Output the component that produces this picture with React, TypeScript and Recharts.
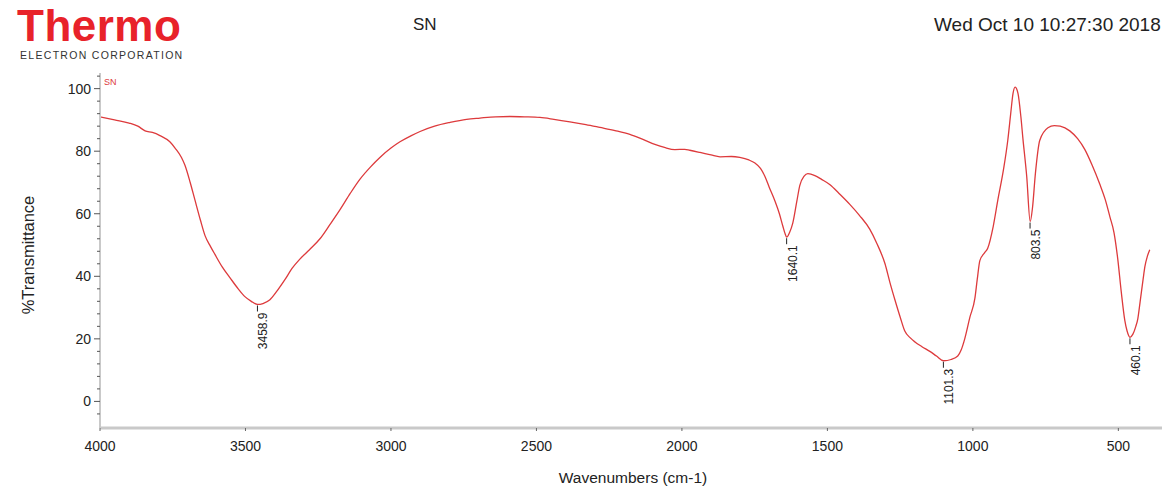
import React from "react";
import {
  LineChart,
  Line,
  XAxis,
  YAxis,
  ReferenceDot,
} from "recharts";

// spectrum
const wavenumbers = [
  4000, 3950, 3900, 3870, 3845, 3820, 3794, 3760, 3742, 3720, 3708, 3690, 3674, 3655, 3639, 3620,
  3605, 3580, 3553, 3525, 3502, 3480, 3459, 3440, 3416, 3390, 3364, 3340, 3313, 3280, 3244, 3210,
  3175, 3140, 3107, 3070, 3038, 3000, 2969, 2930, 2900, 2850, 2797, 2740, 2694, 2640, 2591, 2540,
  2488, 2440, 2385, 2330, 2282, 2230, 2179, 2130, 2093, 2060, 2024, 1990, 1973, 1938, 1900, 1869,
  1830, 1801, 1770, 1749, 1730, 1715, 1700, 1680, 1665, 1653, 1645, 1640, 1630, 1619, 1605, 1595,
  1580, 1567, 1543, 1520, 1491, 1460, 1423, 1390, 1354, 1330, 1302, 1285, 1268, 1250, 1234, 1215,
  1199, 1175, 1148, 1125, 1101, 1075, 1052, 1040, 1028, 1010, 993, 985, 976, 960, 949, 930,
  914, 895, 880, 870, 862, 855, 845, 835, 828, 815, 803, 795, 785, 770, 742, 720,
  700, 667, 640, 615, 590, 564, 545, 529, 515, 502, 490, 478, 470, 460, 450, 440,
  433, 425, 415, 409, 400, 392,
];

const transmittance = [
  91, 90, 89, 88, 86.5, 86, 85, 83, 81, 78, 75.5, 70, 64.5, 58, 53, 49.5,
  47, 43, 39.5, 36, 33.5, 32, 31, 31.3, 32.5, 35.5, 39, 42.5, 45.5, 48.5, 52, 56.5,
  61.3, 66.5, 71, 75, 78, 81, 83, 85, 86.3, 88, 89.2, 90.2, 90.6, 91, 91.1, 91,
  90.8, 90.2, 89.4, 88.5, 87.6, 86.6, 85.4, 83.6, 82.2, 81.2, 80.5, 80.6, 80.3, 79.6, 78.8, 78.2,
  78.3, 78, 77.2, 76.2, 74.5, 72, 68.5, 64, 60, 56, 53.5, 52.5, 54, 57, 64, 69,
  72, 72.8, 72.2, 71, 69.3, 66.5, 63, 59.5, 55, 50.5, 44, 38, 32.5, 27, 22.5, 20.3,
  19, 17.5, 16, 14.5, 13, 13.4, 14.5, 16.5, 20, 27, 33, 39, 45, 47.5, 49, 56,
  64.5, 74, 83.5, 92, 98.5, 100.5, 98.5, 91, 84, 72, 57.5, 62, 73, 83.5, 87.5, 88.2,
  88, 86.5, 84, 80.5, 75.5, 69.5, 64.5, 59, 54, 45.5, 35, 26, 22.5, 20.5, 21.5, 24,
  26.5, 32, 39, 43, 46.5, 48.5,
];

const peakWavenumbers = [3458.9, 1640.1, 1101.3, 803.5, 460.1];
const peakValues = [31, 52.5, 13, 57.5, 20.5];
const peakLabels = ["3458.9", "1640.1", "1101.3", "803.5", "460.1"];

const xTicks = [4000, 3500, 3000, 2500, 2000, 1500, 1000, 500];
const yTicks = [0, 20, 40, 60, 80, 100];
const yMinorTicks = [-4, 4, 8, 12, 16, 24, 28, 32, 36, 44, 48, 52, 56, 64, 68, 72, 76, 84, 88, 92, 96, 104];

const data = wavenumbers.map((w, i) => ({ w, t: transmittance[i] }));

const FONT = "'Liberation Sans', Arial, sans-serif";
const RED = "#dd3a3c";

const PeakMark = (props: any) => {
  const { cx, cy, label } = props;
  const tx = cx + 10;
  const ty = cy + 8;
  return (
    <g>
      <line x1={cx} y1={cy + 1} x2={cx} y2={cy + 7} stroke="#222" strokeWidth={1} />
      <text
        x={tx}
        y={ty}
        transform={`rotate(-90, ${tx}, ${ty})`}
        textAnchor="end"
        fontSize={12}
        fontFamily={FONT}
        fill="#222"
      >
        {label}
      </text>
    </g>
  );
};

const MinorTick = (props: any) => {
  const { cx, cy } = props;
  return <line x1={cx - 3} y1={cy} x2={cx} y2={cy} stroke="#555" strokeWidth={1} />;
};

export default function App() {
  return (
    <div
      style={{
        position: "absolute",
        left: 0,
        top: 0,
        width: 1170,
        height: 487,
        overflow: "hidden",
        background: "#fff",
        fontFamily: FONT,
      }}
    >
      <div
        style={{
          position: "absolute",
          left: 17,
          top: 1,
          fontSize: 44,
          fontWeight: 700,
          color: "#e8222a",
          letterSpacing: 0.5,
          lineHeight: "50px",
        }}
      >
        Thermo
      </div>
      <div
        style={{
          position: "absolute",
          left: 20,
          top: 49,
          fontSize: 10.5,
          color: "#333",
          letterSpacing: 1.3,
          lineHeight: "12px",
        }}
      >
        ELECTRON CORPORATION
      </div>
      <div style={{ position: "absolute", left: 413, top: 15, fontSize: 17, color: "#222" }}>SN</div>
      <div
        style={{
          position: "absolute",
          left: 934,
          top: 14,
          fontSize: 19,
          color: "#222",
          whiteSpace: "nowrap",
        }}
      >
        Wed Oct 10 10:27:30 2018
      </div>
      <div
        style={{
          position: "absolute",
          left: 28,
          top: 255,
          transform: "translate(-50%, -50%) rotate(-90deg)",
          fontSize: 16.5,
          color: "#222",
          whiteSpace: "nowrap",
        }}
      >
        %Transmittance
      </div>
      <div
        style={{
          position: "absolute",
          left: 633,
          top: 478,
          transform: "translate(-50%, -50%)",
          fontSize: 15.5,
          color: "#222",
          whiteSpace: "nowrap",
        }}
      >
        Wavenumbers (cm-1)
      </div>
      <div
        style={{ position: "absolute", left: 104, top: 77, fontSize: 9, color: RED }}
      >
        SN
      </div>
      <div style={{ position: "absolute", left: 0, top: 0 }}>
        <LineChart
          width={1170}
          height={487}
          data={data}
          margin={{ top: 73, right: 8, bottom: 29, left: 40 }}
        >
          <XAxis
            type="number"
            dataKey="w"
            domain={[350, 4000]}
            reversed
            ticks={xTicks}
            height={30}
            tickSize={3}
            tickMargin={10}
            axisLine={{ stroke: "#c9c9c9", strokeWidth: 3 }}
            tickLine={{ stroke: "#666" }}
            tick={{ fontSize: 14, fill: "#222", fontFamily: FONT }}
            allowDataOverflow
          />
          <YAxis
            type="number"
            dataKey="t"
            domain={[-8.5, 105]}
            ticks={yTicks}
            width={60}
            tickSize={6}
            tickMargin={3}
            axisLine={{ stroke: "#c9c9c9", strokeWidth: 2 }}
            tickLine={{ stroke: "#555" }}
            tick={{ fontSize: 14, fill: "#222", fontFamily: FONT }}
            allowDataOverflow
          />
          {yMinorTicks.map((v) => (
            <ReferenceDot
              key={`m-${v}`}
              x={4000}
              y={v}
              r={0}
              ifOverflow="visible"
              shape={(p: any) => <MinorTick {...p} />}
            />
          ))}
          <Line
            type="monotone"
            dataKey="t"
            stroke={RED}
            strokeWidth={1.3}
            dot={false}
            isAnimationActive={false}
          />
          {peakWavenumbers.map((w, i) => (
            <ReferenceDot
              key={`p-${w}`}
              x={w}
              y={peakValues[i]}
              r={0}
              ifOverflow="visible"
              shape={(p: any) => <PeakMark {...p} label={peakLabels[i]} />}
            />
          ))}
        </LineChart>
      </div>
    </div>
  );
}
